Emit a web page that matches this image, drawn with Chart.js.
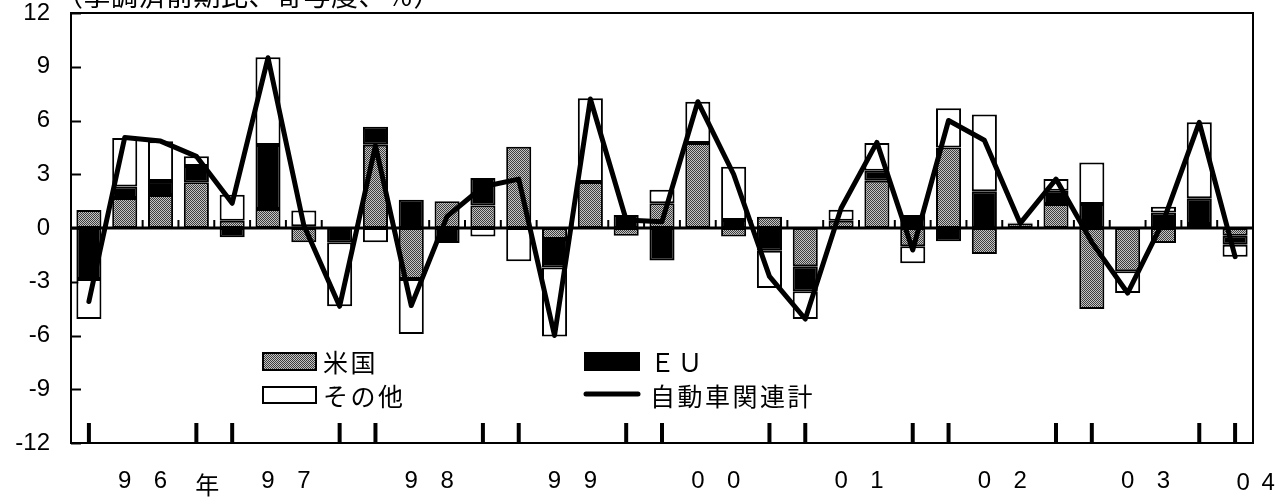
<!DOCTYPE html>
<html>
<head>
<meta charset="utf-8">
<script src="https://cdn.jsdelivr.net/npm/chart.js@4/dist/chart.umd.min.js"></script>
<style>
html,body{margin:0;padding:0;background:#fff;}
#c{display:block;}
</style>
</head>
<body>
<canvas id="c" width="1287" height="499"></canvas>
<script>
const categories = ['96Q1','96Q2','96Q3','96Q4','97Q1','97Q2','97Q3','97Q4','98Q1','98Q2','98Q3','98Q4',
  '99Q1','99Q2','99Q3','99Q4','00Q1','00Q2','00Q3','00Q4','01Q1','01Q2','01Q3','01Q4',
  '02Q1','02Q2','02Q3','02Q4','03Q1','03Q2','03Q3','03Q4','04Q1'];
const usValues = [1.0, 1.67, 1.84, 2.55, 0.4, 1.06, -0.8, 0, 4.65, -2.85, 1.5, 1.25,
  4.54, -0.61, 2.57, -0.43, 1.38, 4.74, -0.47, 0.63, -2.14, 0.4, 2.64, -1.02,
  4.5, -1.45, 0.25, 1.34, -4.52, -2.42, -0.84, 0.22, -0.43];
const euValues = [-2.85, 0.64, 0.78, 0.91, -0.52, 3.57, 0.1, -0.8, 1.0, 1.58, -0.84, 1.54,
  0, -1.59, 0, 0.73, -1.82, 0, 0.45, -1.27, -1.39, 0, 0.56, 0.73,
  -0.74, 2.05, 0, 0.74, 1.34, 0, 0.87, 1.44, -0.5];
const otherValues = [-2.23, 2.71, 2.22, 0.54, 1.46, 4.9, 0.87, -3.57, -0.8, -3.07, 0, -0.48,
  -1.86, -3.85, 4.67, 0, 0.76, 2.31, 2.97, -2.08, -1.55, 0.62, 1.54, -0.95,
  2.18, 4.28, 0.05, 0.65, 2.31, -1.21, 0.32, 4.24, -0.67];
const totalValues = [-4.1, 5.05, 4.85, 4.0, 1.38, 9.5, 0.15, -4.37, 4.6, -4.33, 0.65, 2.3,
  2.73, -6.0, 7.2, 0.45, 0.35, 7.05, 3.0, -2.7, -5.08, 1.1, 4.78, -1.23,
  6.0, 4.9, 0.26, 2.73, -0.8, -3.63, 0.4, 5.9, -1.6];
const yearLabels = ['９６','９７','９８','９９','００','０１','０２','０３','０４'];
const yearSuffix = '年';
const seriesNames = ['米国','ＥＵ','その他','自動車関連計'];
const titleText = '（季調済前期比、寄与度、％）';
const yTicks = [-12,-9,-6,-3,0,3,6,9,12];

// stippled grey pattern
const pc = document.createElement('canvas');
pc.width = 2; pc.height = 2;
const pctx = pc.getContext('2d');
pctx.fillStyle = '#c4c4c4'; pctx.fillRect(0,0,2,2);
pctx.fillStyle = '#3c3c3c'; pctx.fillRect(0,0,1,1); pctx.fillRect(1,1,1,1);
const greyPattern = pctx.createPattern(pc, 'repeat');

const LATIN = '"Liberation Sans", Arial, sans-serif';
const CJK = '"Noto Sans CJK JP", sans-serif';

const decor = {
  id: 'decor',
  beforeDatasetsDraw(chart) {
    const ctx = chart.ctx, a = chart.chartArea, x = chart.scales.x, y = chart.scales.y;
    ctx.save();
    ctx.strokeStyle = '#000';
    ctx.lineWidth = 2;
    ctx.strokeRect(a.left, a.top, a.right - a.left, a.bottom - a.top);
    yTicks.forEach(v => {
      const py = Math.round(y.getPixelForValue(v)) + 0.5;
      ctx.beginPath(); ctx.moveTo(a.left, py); ctx.lineTo(a.left + 10, py); ctx.stroke();
    });
    const y0 = y.getPixelForValue(0);
    const step = (x.getPixelForValue(1) - x.getPixelForValue(0));
    ctx.lineWidth = 2;
    for (let i = 1; i < categories.length; i++) {
      const px = x.getPixelForValue(i) - step / 2;
      ctx.beginPath(); ctx.moveTo(px, y0); ctx.lineTo(px, y0 - 8); ctx.stroke();
    }
    ctx.lineWidth = 4;
    const yb = y.getPixelForValue(-12);
    for (let i = 0; i < categories.length; i++) {
      if (i % 4 === 0 || i % 4 === 3) {
        const px = x.getPixelForValue(i);
        ctx.beginPath(); ctx.moveTo(px, yb - 20); ctx.lineTo(px, yb); ctx.stroke();
      }
    }
    ctx.lineWidth = 3;
    ctx.beginPath(); ctx.moveTo(a.left, y0); ctx.lineTo(a.right, y0); ctx.stroke();
    ctx.restore();
  },
  afterDraw(chart) {
    const ctx = chart.ctx, x = chart.scales.x;
    ctx.save();
    ctx.fillStyle = '#000';
    ctx.font = '24px ' + LATIN;
    ctx.textAlign = 'center';
    ctx.textBaseline = 'middle';
    yearLabels.forEach((lab, k) => {
      const d = Array.from(lab).map(ch => String.fromCharCode(ch.charCodeAt(0) - 0xFEE0));
      if (k < yearLabels.length - 1) {
        ctx.fillText(d[0], x.getPixelForValue(4 * k + 1), 481);
        ctx.fillText(d[1], x.getPixelForValue(4 * k + 2), 481);
      } else {
        const base = x.getPixelForValue(4 * k);
        ctx.fillText(d[0], base + 8, 483);
        ctx.fillText(d[1], base + 33, 483);
      }
    });
    ctx.font = '24px ' + CJK;
    ctx.fillText(yearSuffix, x.getPixelForValue(3) + 11, 485);

    ctx.textAlign = 'left';
    ctx.textBaseline = 'alphabetic';
    ctx.font = '27px ' + CJK;
    try { ctx.letterSpacing = '0.5px'; } catch (e) {}
    ctx.fillText(titleText, 56, 6);

    ctx.font = '25px ' + CJK;
    try { ctx.letterSpacing = '2.5px'; } catch (e) {}
    ctx.textBaseline = 'middle';
    ctx.lineWidth = 2;
    ctx.strokeStyle = '#000';
    ctx.fillStyle = greyPattern; ctx.fillRect(263, 353, 53, 17); ctx.strokeRect(263, 353, 53, 17);
    ctx.fillStyle = '#fff'; ctx.fillRect(263, 387, 53, 16); ctx.strokeRect(263, 387, 53, 16);
    ctx.fillStyle = '#000'; ctx.fillRect(584, 352, 56, 19);
    ctx.lineWidth = 5; ctx.lineCap = 'round';
    ctx.beginPath(); ctx.moveTo(586, 394); ctx.lineTo(638, 394); ctx.stroke();
    ctx.fillStyle = '#000';
    ctx.fillText(seriesNames[0], 323, 362);
    ctx.fillText(seriesNames[2], 323, 396);
    ctx.fillText(seriesNames[1], 650, 362);
    ctx.fillText(seriesNames[3], 650, 396);
    ctx.restore();
  }
};

const barCommon = {
  type: 'bar',
  borderColor: '#000',
  borderWidth: 2,
  borderSkipped: false,
  barPercentage: 0.7,
  categoryPercentage: 1.0,
  stack: 'trade',
  order: 1
};

new Chart(document.getElementById('c'), {
  data: {
    labels: categories,
    datasets: [
      Object.assign({}, barCommon, { label: seriesNames[0], data: usValues, backgroundColor: greyPattern }),
      Object.assign({}, barCommon, { label: seriesNames[1], data: euValues, backgroundColor: '#000' }),
      Object.assign({}, barCommon, { label: seriesNames[2], data: otherValues, backgroundColor: '#fff' }),
      { type: 'line', label: seriesNames[3], data: totalValues, borderColor: '#000', borderWidth: 5,
        pointRadius: 0, tension: 0, fill: false, stack: 'total', order: 0,
        borderJoinStyle: 'round', borderCapStyle: 'round' }
    ]
  },
  options: {
    responsive: false,
    animation: false,
    devicePixelRatio: 1,
    layout: { padding: { top: 13, right: 34, left: 0, bottom: 0 } },
    plugins: { legend: { display: false }, tooltip: { enabled: false } },
    scales: {
      x: {
        type: 'category',
        offset: true,
        stacked: true,
        grid: { display: false },
        border: { display: false },
        ticks: { display: false },
        afterFit(s) { s.height = 56; s.paddingLeft = 0; s.paddingRight = 0; }
      },
      y: {
        min: -12, max: 12,
        stacked: true,
        grid: { display: false, drawTicks: false },
        border: { display: false },
        ticks: { stepSize: 3, color: '#000', padding: 21, font: { size: 24, family: 'Liberation Sans' } },
        afterFit(s) { s.width = 71; s.paddingTop = 0; s.paddingBottom = 0; }
      }
    }
  },
  plugins: [decor]
});
</script>
</body>
</html>
